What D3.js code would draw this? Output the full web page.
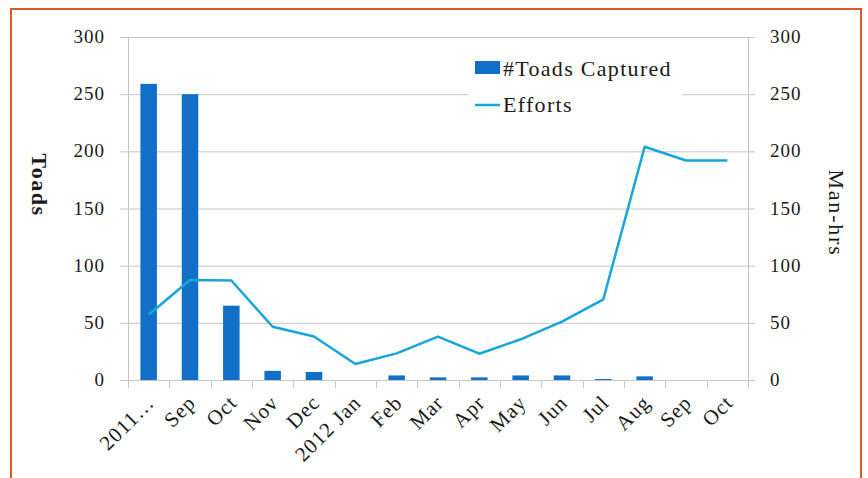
<!DOCTYPE html>
<html><head><meta charset="utf-8">
<script src="https://cdn.jsdelivr.net/npm/d3@7"></script>
<style>body{margin:0;background:#fff}svg{display:block}text{font-family:"Liberation Serif","DejaVu Serif",serif;fill:#1a1a1a}</style>
</head><body><svg id="c" width="868" height="478"></svg>
<script>
const categories = ["2011…","Sep","Oct","Nov","Dec","2012 Jan","Feb","Mar","Apr","May","Jun","Jul","Aug","Sep","Oct"];
const toads = [259,250,65,8,7,0,4,2.3,2.3,4,4,0.9,3.2,0,0];
const efforts = [57,87.5,87,46.6,38,14,23.3,38,23,35.6,51,70.6,204,192,192];
const leftTicks = [0,50,100,150,200,250,300];
const rightTicks = [0,50,100,150,200,250,300];

const svg = d3.select("#c");
const L = 128, R = 748, T = 37, B = 380;
svg.append("rect").attr("x",11).attr("y",9).attr("width",850).attr("height",490)
  .attr("fill","none").attr("stroke","#E0592B").attr("stroke-width",2);

const x = d3.scaleBand().domain(d3.range(categories.length)).range([L,R]).paddingInner(0).paddingOuter(0);
const yL = d3.scaleLinear().domain([0,300]).range([B,T]);
const yR = d3.scaleLinear().domain([0,300]).range([B,T]);
const grid = "#c4c4c4";

// gridlines
svg.append("g").selectAll("line").data(leftTicks).join("line")
  .attr("x1",120).attr("x2",755).attr("y1",d=>yL(d)+0.5).attr("y2",d=>yL(d)+0.5)
  .attr("stroke",grid).attr("stroke-width",1);
// axis verticals
svg.append("line").attr("x1",L+0.5).attr("x2",L+0.5).attr("y1",T).attr("y2",B+8).attr("stroke",grid);
svg.append("line").attr("x1",R+0.5).attr("x2",R+0.5).attr("y1",T).attr("y2",B+8).attr("stroke",grid);
// category ticks
const bounds = d3.range(categories.length+1).map(i=>L + i*x.bandwidth());
svg.append("g").selectAll("line").data(bounds).join("line")
  .attr("x1",d=>Math.round(d)+0.5).attr("x2",d=>Math.round(d)+0.5).attr("y1",B).attr("y2",B+8).attr("stroke",grid);

// tick labels
svg.append("g").selectAll("text").data(leftTicks).join("text")
  .attr("x",105).attr("y",d=>yL(d)+6).attr("text-anchor","end").attr("font-size",19)
  .attr("letter-spacing",1).text(d=>d);
svg.append("g").selectAll("text").data(rightTicks).join("text")
  .attr("x",770).attr("y",d=>yR(d)+6).attr("text-anchor","start").attr("font-size",19)
  .attr("letter-spacing",1).text(d=>d);

// bars
const bw = 16.5;
svg.append("g").selectAll("rect").data(toads).join("rect")
  .attr("x",(d,i)=>x(i)+x.bandwidth()/2-bw/2).attr("width",bw)
  .attr("y",d=>yL(d)).attr("height",d=>B-yL(d)).attr("fill","#126FC8");

// line
const line = d3.line().x((d,i)=>x(i)+x.bandwidth()/2).y(d=>yR(d));
svg.append("path").datum(efforts).attr("d",line).attr("fill","none")
  .attr("stroke","#18A4DC").attr("stroke-width",2.5).attr("stroke-linejoin","round");

// x labels
svg.append("g").selectAll("text").data(categories).join("text")
  .attr("transform",(d,i)=>`translate(${x(i)+x.bandwidth()/2+7},${B+24}) rotate(-45)`)
  .attr("text-anchor","end").attr("font-size",21).attr("letter-spacing",1).text(d=>d);

// axis titles
svg.append("text").attr("transform","translate(32,185) rotate(90)").attr("text-anchor","middle")
  .attr("font-size",22).attr("font-weight","bold").attr("letter-spacing",1.5).text("Toads");
svg.append("text").attr("transform","translate(829,213) rotate(90)").attr("text-anchor","middle")
  .attr("font-size",22).attr("letter-spacing",1.8).text("Man-hrs");

// legend
const lg = svg.append("g");
lg.append("rect").attr("x",468).attr("y",50).attr("width",214).attr("height",76).attr("fill","#fff");
lg.append("rect").attr("x",475).attr("y",61).attr("width",25).attr("height",13).attr("fill","#126FC8");
lg.append("text").attr("x",503).attr("y",76).attr("font-size",22).attr("letter-spacing",1.3).text("#Toads Captured");
lg.append("line").attr("x1",475).attr("x2",500).attr("y1",105).attr("y2",105).attr("stroke","#18A4DC").attr("stroke-width",2.5);
lg.append("text").attr("x",503).attr("y",112).attr("font-size",22).attr("letter-spacing",1.3).text("Efforts");
</script></body></html>
